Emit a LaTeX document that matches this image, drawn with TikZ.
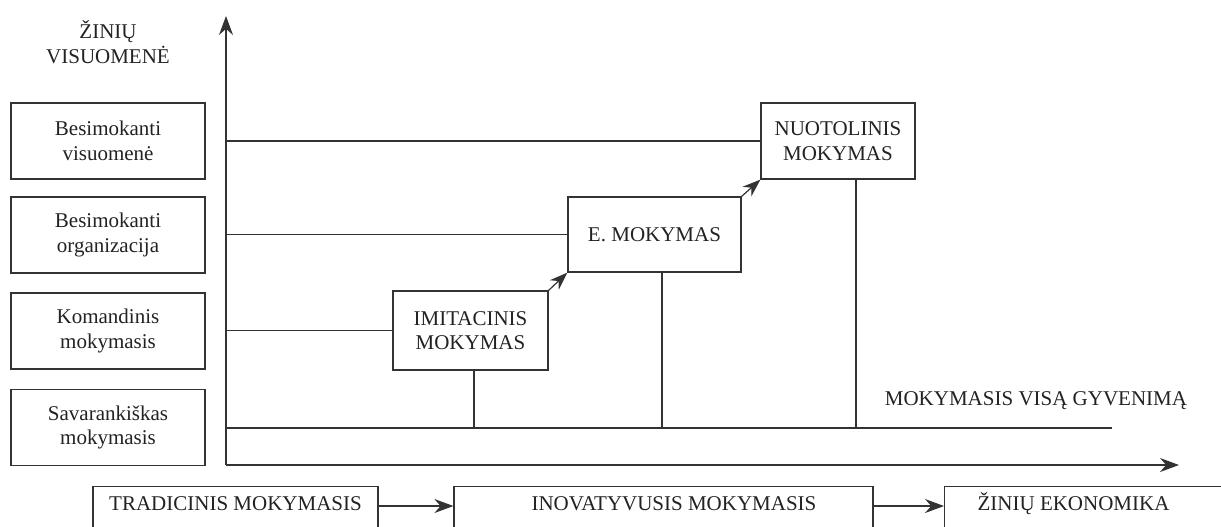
\documentclass[tikz,border=0pt]{standalone}
\usepackage{fontspec}
\setmainfont{Liberation Serif}
\usetikzlibrary{arrows.meta}
\definecolor{ink}{HTML}{222222}
\definecolor{ln}{HTML}{333333}
\begin{document}
\begin{tikzpicture}[x=0.5pt,y=-0.5pt,
  font=\fontsize{10.5}{12.3}\selectfont, color=ln, text=ink, line width=0.6pt,
  leftbox/.style={draw=ln, minimum width=97pt, minimum height=38pt, align=center, inner sep=2pt},
  stagebox/.style={draw=ln, align=center, inner sep=2pt},
  bottombox/.style={draw=ln, anchor=north, text height=7.5pt, text depth=20pt, inner ysep=4.5pt},
  axisarrow/.style={-{Stealth[length=9.5pt,width=7pt]}},
  steparrow/.style={-{Stealth[length=9pt,width=6.5pt]}}
]
\useasboundingbox (0,0) rectangle (1221,526);
\clip (0,0) rectangle (1221,526);

% axes
\coordinate (o) at (226,465);
\coordinate (ytop) at (226,16);
\coordinate (xend) at (1179,465);
\draw[axisarrow] (o) -- (ytop);
\draw[axisarrow] (o) -- (xend);

% lifelong line
\coordinate (l0) at (226,428);
\coordinate (l1) at (1112,428);
\draw (l0) -- (l1);

% labels
\node[align=center] (zv) at (108,42) {ŽINIŲ\\VISUOMENĖ};
\node (mvg) at (1036,401) {MOKYMASIS VISĄ GYVENIMĄ};

% left boxes
\node[leftbox] (b1) at (108,141) {Besimokanti\\visuomenė};
\node[leftbox] (b2) at (108,235) {Besimokanti\\organizacija};
\node[leftbox] (b3) at (108,331) {Komandinis\\mokymasis};
\node[leftbox] (b4) at (108,427.5) {Savarankiškas\\mokymasis};

% stage boxes
\node[stagebox, minimum width=77.5pt, minimum height=39.5pt] (imit) at (470.5,330.5) {IMITACINIS\\MOKYMAS};
\node[stagebox, minimum width=86.5pt, minimum height=37.5pt] (emok) at (654.5,234.5) {E. MOKYMAS};
\node[stagebox, minimum width=77pt, minimum height=38pt] (nuot) at (838,141) {NUOTOLINIS\\MOKYMAS};

% horizontal lines from the vertical axis
\draw (o |- nuot.west) -- (nuot.west);
\draw (o |- emok.west) -- (emok.west);
\draw (o |- imit.west) -- (imit.west);

% drops to the lifelong line
\draw ([xshift=1.75pt]imit.south) -- ([xshift=1.75pt]imit.south |- l0);
\draw ([xshift=3.75pt]emok.south) -- ([xshift=3.75pt]emok.south |- l0);
\draw ([xshift=9pt]nuot.south) -- ([xshift=9pt]nuot.south |- l0);

% step arrows
\draw[steparrow] (imit.north east) -- (emok.south west);
\draw[steparrow] (emok.north east) -- (nuot.south west);

% bottom boxes
\node[bottombox, minimum width=142.5pt] (trad) at (235.5,486) {TRADICINIS MOKYMASIS};
\node[bottombox, minimum width=209.5pt] (inov) at (663.5,486) {\hspace*{10.5pt}INOVATYVUSIS MOKYMASIS};
\node[bottombox, anchor=north west, inner xsep=0pt] (zek) at (944,486) {\hspace*{16.5pt}ŽINIŲ EKONOMIKA\hspace*{60pt}};
\draw[axisarrow] (trad.mid east) -- (inov.mid west);
\draw[axisarrow] (inov.mid east) -- (zek.mid west);
\end{tikzpicture}
\end{document}
